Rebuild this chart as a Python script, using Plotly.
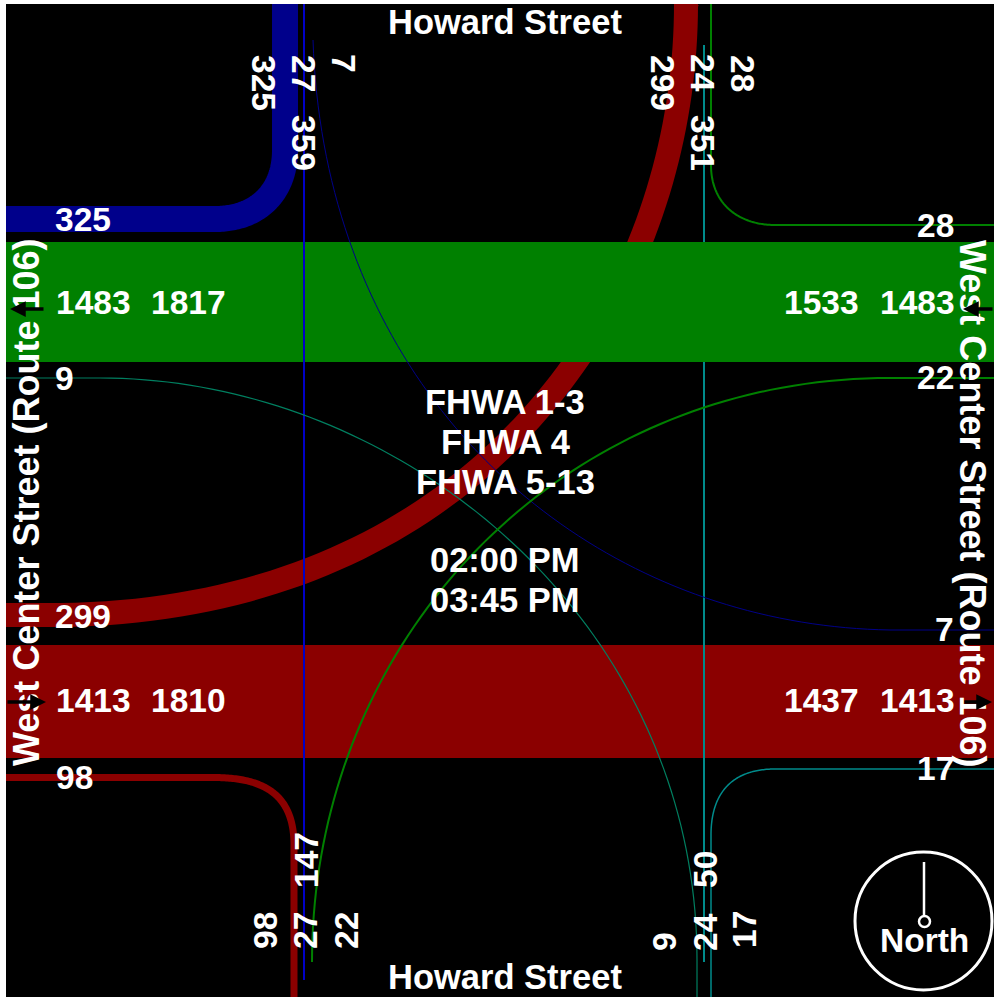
import plotly.graph_objects as go

WHITE = "#ffffff"
GREEN = "#008000"
RED = "#8b0000"
NAVY = "#00008b"
BLUE = "#0000c8"
DKBLUE = "#000088"
TEAL = "#008b8b"
TEALGREEN = "#007f60"

# Labels
street_ns = "Howard Street"
street_ew = "West Center Street (Route 106)"
center_lines = ["FHWA 1-3", "FHWA 4", "FHWA 5-13", "02:00 PM", "03:45 PM"]
center_y = [402, 442, 482, 560, 600]

top_vals = ["325", "27", "7", "359", "299", "24", "351", "28"]
top_x = [264, 304, 344, 304, 663, 703, 703, 743]
top_y = [83, 73, 63, 143, 83, 73, 143, 73]

bottom_vals = ["147", "98", "27", "22", "50", "9", "24", "17"]
bottom_x = [306, 265, 305, 346, 705, 664, 705, 744]
bottom_y = [860, 931, 931, 931, 870, 942, 932, 930]

left_vals = ["325", "1483", "1817", "9", "299", "1413", "1810", "98"]
left_x = [83, 93, 188, 64, 83, 93, 188, 74]
left_y = [219, 302, 302, 378, 616, 700, 700, 777]

right_vals = ["28", "1533", "1483", "22", "7", "1437", "1413", "17"]
right_x = [935, 821, 917, 935, 944, 821, 917, 935]
right_y = [225, 302, 302, 377, 629, 700, 700, 768]


def bez(c, n=80):
    """Sample a cubic curve from four control points."""
    xs, ys = [], []
    for i in range(n + 1):
        t = i / n
        u = 1 - t
        xs.append(u**3*c[0][0] + 3*u*u*t*c[1][0] + 3*u*t*t*c[2][0] + t**3*c[3][0])
        ys.append(u**3*c[0][1] + 3*u*u*t*c[1][1] + 3*u*t*t*c[2][1] + t**3*c[3][1])
    return xs, ys


def route(start, ctrl, end, tail=None):
    xs, ys = bez([start, ctrl[0], ctrl[1], end])
    if tail:
        xs = [tail[0][0]] + xs + [tail[1][0]]
        ys = [tail[0][1]] + ys + [tail[1][1]]
    return xs, ys


fig = go.Figure()


def add(xs, ys, color, width):
    fig.add_trace(go.Scatter(x=xs, y=ys, mode="lines", hoverinfo="skip", showlegend=False,
                             line=dict(color=color, width=width, simplify=False)))


# under the bands
add([704, 704], [45, 962], TEAL, 2)
x, y = route((60, 615), ((480, 610), (686, 300)), (686, 4), tail=((0, 615), (688, 0)))
add(x, y, RED, 24)

# bands
add([0, 1000], [302, 302], GREEN, 120)
add([0, 1000], [701.5, 701.5], RED, 113)
add([704, 704], [645, 758], TEAL, 2)

# turning flows
x, y = route((215, 219), ((258, 219), (285, 192)), (285, 150), tail=((0, 219), (285, 0)))
add(x, y, NAVY, 26)
x, y = route((213, 777.5), ((258, 777.5), (294, 790)), (294, 845), tail=((0, 777.5), (294, 1000)))
add(x, y, RED, 7)
add([304, 304], [0, 980], BLUE, 2)
x, y = route((313, 40), ((325, 400), (590, 625)), (890, 630), tail=None)
add(x + [1000], y + [630], DKBLUE, 1)
x, y = route((100, 378), ((400, 378), (697, 620)), (697, 960), tail=((0, 378), (697, 1000)))
add(x, y, TEALGREEN, 1.2)
x, y = route((890, 378), ((560, 378), (312, 640)), (312, 962))
add([1000] + x, [378] + y, GREEN, 2)
x, y = route((711, 165), ((711, 205), (740, 225)), (775, 225), tail=((711, 0), (1000, 225)))
add(x, y, GREEN, 2)
x, y = route((775, 769), ((735, 769), (711, 790)), (711, 835), tail=((1000, 769), (711, 1000)))
add(x, y, TEAL, 1.5)

# compass needle
add([924, 924], [862, 915], WHITE, 2.5)

annotations = []


def txt(s, x, y, size=33.5, angle=0):
    annotations.append(dict(x=x, y=y, xref="x", yref="y", text=s, showarrow=False, textangle=angle,
                            xanchor="center", yanchor="middle",
                            font=dict(family="Liberation Sans", size=size, color=WHITE, weight="bold")))


for s, xx, yy in zip(top_vals, top_x, top_y):
    txt(s, xx, yy, angle=90)
for s, xx, yy in zip(bottom_vals, bottom_x, bottom_y):
    txt(s, xx, yy, angle=-90)
for s, xx, yy in zip(left_vals, left_x, left_y):
    txt(s, xx, yy)
for s, xx, yy in zip(right_vals, right_x, right_y):
    txt(s, xx, yy)
for s, yy in zip(center_lines, center_y):
    txt(s, 505, yy, size=34.5)
txt(street_ns, 505, 22, size=34.5)
txt(street_ns, 505, 977, size=34.5)
txt(street_ew, 26, 503, size=36, angle=-90)
txt(street_ew, 973, 503, size=36, angle=90)
txt("North", 924, 940, size=33.5)

# direction arrows, drawn above the street names
for tipx, tailx, yy in [(10, 45, 309), (46, 6, 702), (963, 994, 309), (992, 963, 702)]:
    annotations.append(dict(x=tipx, y=yy, ax=tailx, ay=yy, xref="x", yref="y", axref="x", ayref="y",
                            text="", showarrow=True, arrowhead=2, arrowsize=0.9, arrowwidth=3.5,
                            arrowcolor="#000000"))

shapes = [
    dict(type="circle", xref="x", yref="y", x0=855, x1=992, y0=852, y1=990,
         line=dict(color=WHITE, width=3)),
    dict(type="circle", xref="x", yref="y", x0=919, x1=930, y0=916, y1=927,
         line=dict(color=WHITE, width=2.5)),
]

fig.update_layout(
    width=994, height=997,
    margin=dict(l=6, r=0, t=4, b=0, pad=0),
    paper_bgcolor=WHITE, plot_bgcolor="#000000",
    xaxis=dict(range=[6, 994], visible=False, fixedrange=True),
    yaxis=dict(range=[997, 4], visible=False, fixedrange=True),
    annotations=annotations, shapes=shapes, showlegend=False,
)
fig.write_html("out.html", post_script="document.body.style.margin='0';", config={"displayModeBar": False})
